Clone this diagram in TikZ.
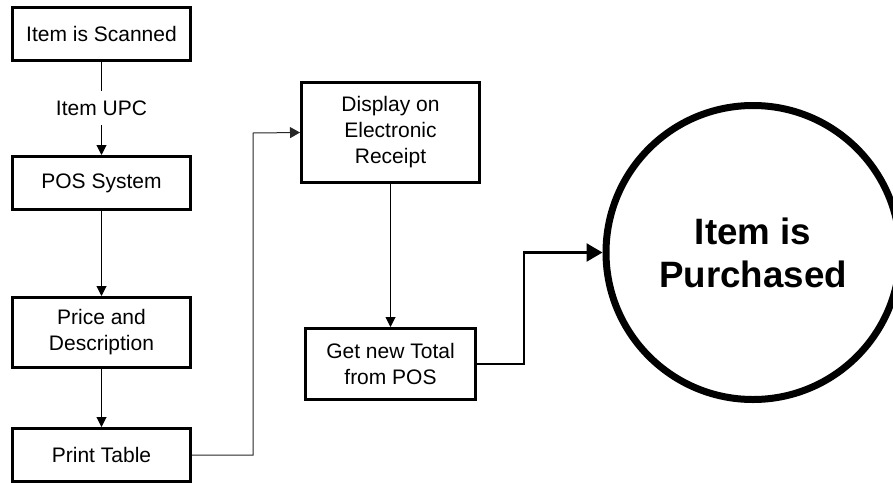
\documentclass[tikz,border=0pt]{standalone}
\usepackage{fontspec}
\setmainfont{Liberation Sans}
\usetikzlibrary{arrows.meta}
\begin{document}
\begin{tikzpicture}[x=1pt,y=-1pt,
  stepbox/.style={draw=black,line width=3pt,fill=white,align=center,inner sep=2pt,
    font=\fontsize{21}{26}\selectfont},
  flow/.style={draw=black,line width=1pt,-{Triangle[length=10pt,width=10pt]}},
  thinflow/.style={draw=black!85,line width=1pt,-{Triangle[length=10pt,width=11pt]}},
  bigflow/.style={draw=black,line width=2.5pt,-{Triangle[length=16pt,width=18pt]}}]
\useasboundingbox (0,0) rectangle (893,482);
\node[stepbox,minimum width=178pt,minimum height=53pt] (scan) at (101.5,34) {Item is Scanned};
\node[stepbox,minimum width=178pt,minimum height=53pt] (pos) at (101.5,183) {POS System};
\node[stepbox,minimum width=178pt,minimum height=70pt] (price) at (101.5,332.5) {Price and\\Description};
\node[stepbox,minimum width=178pt,minimum height=53pt] (print) at (101.5,455) {Print Table};
\node[stepbox,minimum width=178pt,minimum height=100pt] (disp) at (390.5,132.5) {Display on\\Electronic\\Receipt};
\node[stepbox,minimum width=170pt,minimum height=71pt] (total) at (390.5,364) {Get new Total\\from POS};
\node[circle,draw=black,line width=7pt,fill=white,minimum size=294pt,align=center,
  font=\fontsize{36.7}{43}\selectfont\bfseries] (circ) at (753,252.5) {Item is\\Purchased};
\node[inner sep=0pt,minimum height=34pt,font=\fontsize{21}{26}\selectfont] (upc) at (101.5,108) {Item UPC};
\coordinate (c1) at (253,455);
\coordinate (c2) at (253,133);
\coordinate (c3) at (524,364);
\coordinate (c4) at (524,252.5);
\draw[draw=black,line width=1pt] (scan.south) -- (upc.north);
\draw[flow] (upc.south) -- (pos.north);
\draw[flow] (pos.south) -- (price.north);
\draw[flow] (price.south) -- (print.north);
\draw[thinflow] (print.east) -- (c1) -- (c2) -- (disp.west);
\draw[flow] (disp.south) -- (total.north);
\draw[bigflow] (total.east) -- (c3) -- (c4) -- (circ.west);
\end{tikzpicture}
\end{document}
